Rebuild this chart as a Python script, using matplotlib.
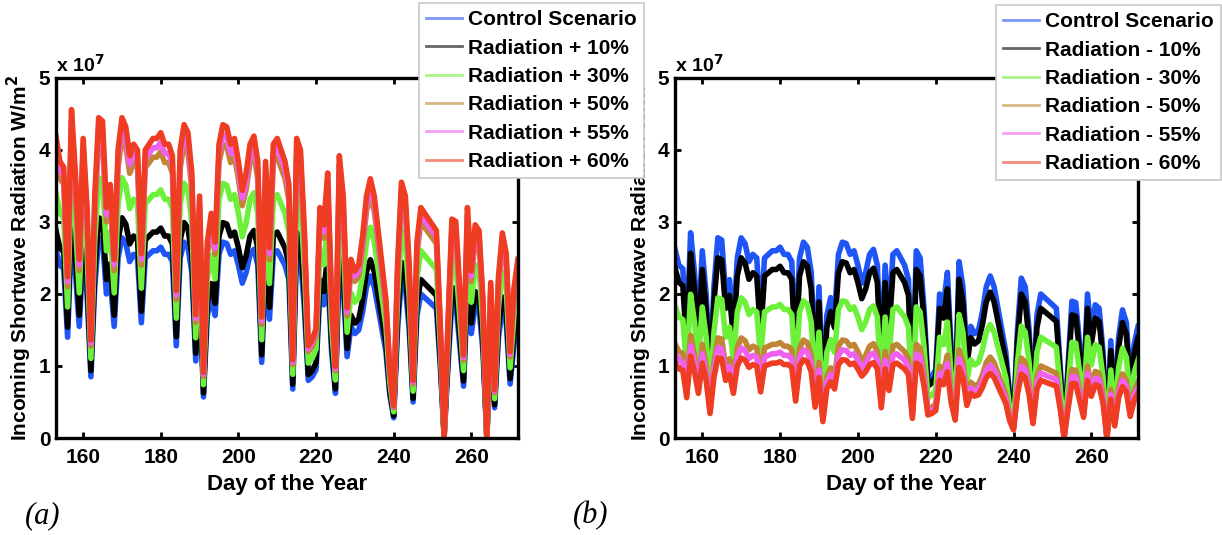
import matplotlib
matplotlib.use("Agg")
import matplotlib.pyplot as plt
import numpy as np

# daily control incoming shortwave radiation, units of 1e7 W/m^2
days = np.arange(153, 273)
control = np.array([
    2.62, 2.40, 2.35, 1.40, 2.85, 2.30, 1.55, 2.60, 2.00, 0.85,
    2.10, 2.78, 2.75, 2.00, 2.20, 1.55, 2.50, 2.78, 2.70, 2.45,
    2.55, 2.50, 1.60, 2.50, 2.55, 2.60, 2.60, 2.65, 2.55, 2.55,
    2.45, 1.28, 2.50, 2.72, 2.65, 2.30, 1.07, 2.10, 0.57, 1.70,
    1.95, 1.70, 2.55, 2.72, 2.70, 2.55, 2.60, 2.40, 2.15, 2.30,
    2.55, 2.62, 2.40, 1.05, 2.40, 1.65, 2.55, 2.60, 2.50, 2.40,
    2.20, 0.68, 2.60, 2.50, 1.80, 0.80, 0.85, 0.95, 2.00, 1.85,
    2.30, 1.20, 0.62, 2.45, 2.10, 1.13, 1.55, 1.45, 1.50, 1.75,
    2.10, 2.25, 2.10, 1.80, 1.50, 1.20, 0.60, 0.28, 1.50, 2.22,
    2.10, 1.50, 0.50, 1.70, 2.00, 1.95, 1.90, 1.85, 1.80, 1.00,
    0.02, 1.00, 1.90, 1.88, 1.30, 0.72, 2.00, 1.45, 1.85, 1.80,
    1.20, 0.00, 1.35, 0.42, 1.40, 1.78, 1.60, 0.75, 1.30, 1.55,
])

# scenario changes in percent
changes = [0, 10, 30, 50, 55, 60]
labels_a = ["Control Scenario", "Radiation + 10%", "Radiation + 30%",
            "Radiation + 50%", "Radiation + 55%", "Radiation + 60%"]
labels_b = ["Control Scenario", "Radiation - 10%", "Radiation - 30%",
            "Radiation - 50%", "Radiation - 55%", "Radiation - 60%"]
colors = ["#1f55f5", "#000000", "#6cf03a", "#c08535", "#f060f0", "#ee3d22"]

FONT = "Liberation Sans"


def style_axes(ax):
    ax.set_xlim(153, 272)
    ax.set_ylim(0, 5)
    ax.set_xticks([160, 180, 200, 220, 240, 260])
    ax.set_yticks([0, 1, 2, 3, 4, 5])
    ax.tick_params(direction="in", length=4, width=2, top=True, right=True,
                   labelsize=15)
    ax.tick_params(axis="x", pad=7)
    ax.tick_params(axis="y", pad=4)
    for lab in ax.get_xticklabels() + ax.get_yticklabels():
        lab.set_fontweight("bold")
        lab.set_family(FONT)
    for sp in ax.spines.values():
        sp.set_linewidth(2.4)
    ax.set_xlabel("Day of the Year", fontsize=16, fontweight="bold",
                  family=FONT, labelpad=5)
    ax.set_ylabel("Incoming Shortwave Radiation W/m$^2$", fontsize=15,
                  fontweight="bold", family=FONT, labelpad=3)
    ax.text(0.0, 1.005, r"x 10$^7$", transform=ax.transAxes, fontsize=14,
            fontweight="bold", family=FONT, va="bottom", ha="left")


plt.rcParams["mathtext.default"] = "bf"
fig = plt.figure(figsize=(12.22, 5.35), dpi=100)
ax_a = fig.add_axes([0.0458, 0.1813, 0.378, 0.673])
ax_b = fig.add_axes([0.5524, 0.1813, 0.3789, 0.673])
ax_a.set_zorder(3)

for ch, lab, c in zip(changes, labels_a, colors):
    ax_a.plot(days, control * (1 + ch / 100), color=c, lw=4, label=lab)
for ch, lab, c in zip(changes, labels_b, colors):
    ax_b.plot(days, control * (1 - ch / 100), color=c, lw=4, label=lab)

style_axes(ax_a)
style_axes(ax_b)

for ax, anchor in [(ax_a, (0.343, 0.9944)), (ax_b, (0.815, 0.9907))]:
    leg = ax.legend(loc="upper left", bbox_to_anchor=anchor,
                    bbox_transform=fig.transFigure, fancybox=False,
                    framealpha=1, edgecolor="#c8c8c8", borderaxespad=0,
                    handlelength=1.7, handletextpad=0.3, labelspacing=0.45,
                    borderpad=0.35,
                    prop={"family": FONT, "weight": "bold", "size": 15})
    leg.get_frame().set_linewidth(1.2)
    for h in leg.get_lines():
        h.set_linewidth(2)
        h.set_alpha(0.6)

fig.text(0.02, 0.022, "(a)", family="Liberation Serif", style="italic",
         fontsize=22)
fig.text(0.469, 0.022, "(b)", family="Liberation Serif", style="italic",
         fontsize=22)

fig.savefig("out.png", dpi=100)
